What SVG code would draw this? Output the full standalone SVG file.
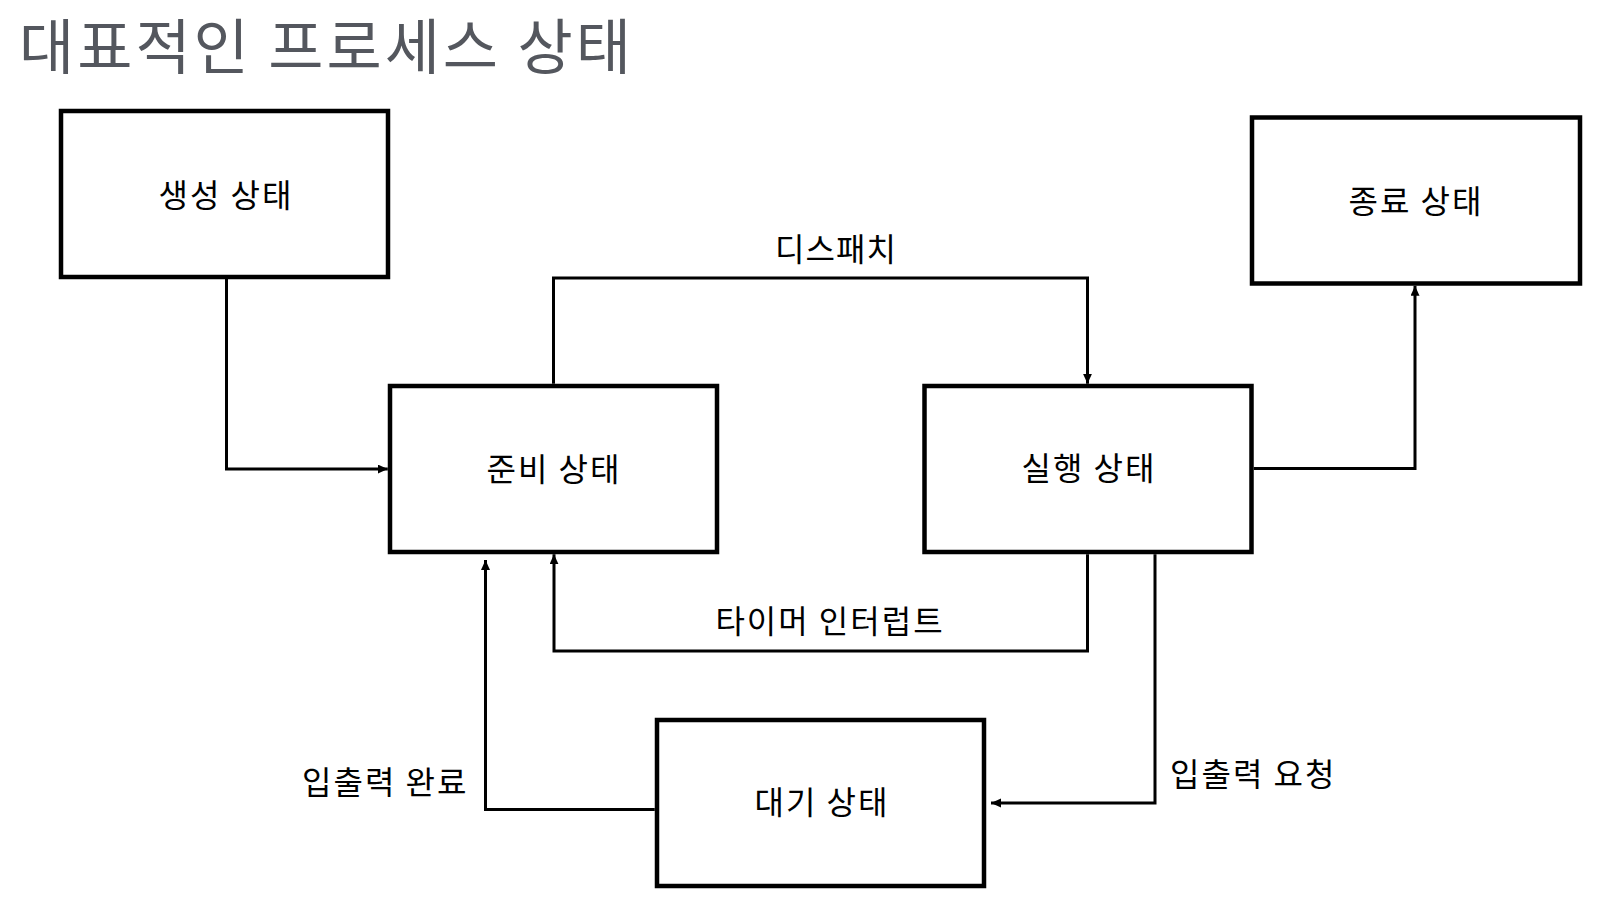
<svg xmlns="http://www.w3.org/2000/svg" width="1621" height="897" viewBox="0 0 1621 897">
<style>
.title{font-family:"Noto Sans CJK KR","Noto Sans",sans-serif;font-size:60px;letter-spacing:3px;fill:#54575e}
.box{fill:#fff;stroke:#000;stroke-width:4.5}
.lbl{font-family:"Noto Sans CJK KR","Noto Sans",sans-serif;font-size:32px;letter-spacing:2px;fill:#000;text-anchor:middle}
.elbl{font-family:"Noto Sans CJK KR","Noto Sans",sans-serif;font-size:32px;letter-spacing:2px;fill:#000}
.edge{fill:none;stroke:#000;stroke-width:3;marker-end:url(#arr)}
</style>
<defs>
<marker id="arr" markerUnits="userSpaceOnUse" markerWidth="11" markerHeight="10" refX="10" refY="4.5" orient="auto">
<path d="M0,0 L10,4.5 L0,9 z" fill="#000"/>
</marker>
</defs>
<rect width="1621" height="897" fill="#fff"/>
<text class="title" x="19" y="69">대표적인 프로세스 상태</text>
<g id="connectors">
<path class="edge" d="M226.5,279 V469 H387.75"/>
<path class="edge" d="M553.5,383.75 V278 H1087.5 V383.75"/>
<path class="edge" d="M1253.75,468.5 H1415 V285.75"/>
<path class="edge" d="M1087.5,554.25 V651 H554 V554.25"/>
<path class="edge" d="M1155,554.25 V803 H991"/>
<path class="edge" d="M654.75,809.5 H485.5 V560"/>
<text class="elbl" x="836" y="261" text-anchor="middle" style="letter-spacing:1px">디스패치</text>
<text class="elbl" x="830" y="633" text-anchor="middle">타이머 인터럽트</text>
<text class="elbl" x="302" y="794">입출력 완료</text>
<text class="elbl" x="1170" y="786">입출력 요청</text>
</g>
<g id="node-create">
<rect class="box" x="61" y="111" width="327" height="166"/>
<text class="lbl" x="226" y="207">생성 상태</text>
</g>
<g id="node-exit">
<rect class="box" x="1252" y="117.5" width="328" height="166"/>
<text class="lbl" x="1416" y="213">종료 상태</text>
</g>
<g id="node-ready">
<rect class="box" x="390" y="386" width="327" height="166"/>
<text class="lbl" x="554" y="481">준비 상태</text>
</g>
<g id="node-run">
<rect class="box" x="924.5" y="386" width="327" height="166"/>
<text class="lbl" x="1089" y="480">실행 상태</text>
</g>
<g id="node-wait">
<rect class="box" x="657" y="720" width="327" height="166"/>
<text class="lbl" x="822" y="814">대기 상태</text>
</g>
</svg>
